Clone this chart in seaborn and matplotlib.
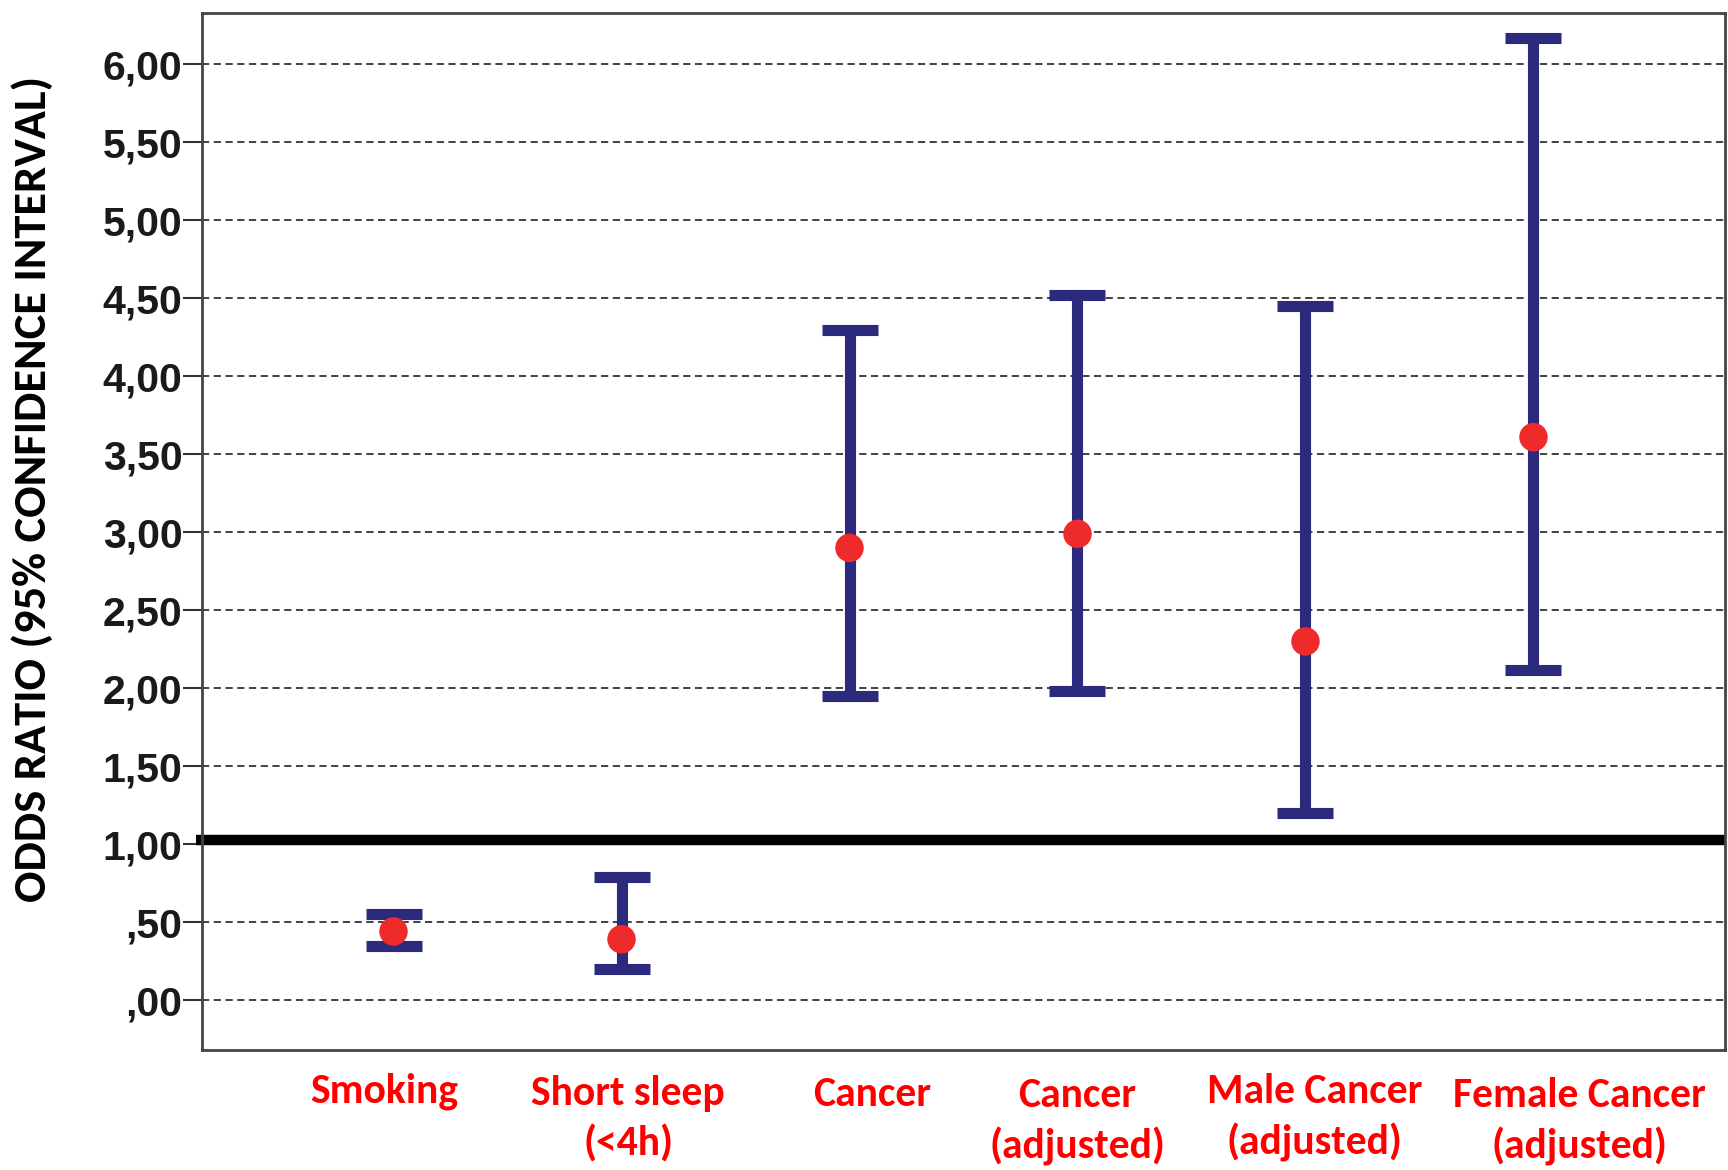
import numpy as np
import pandas as pd
import matplotlib
matplotlib.use("Agg")
import matplotlib.pyplot as plt
import seaborn as sns
from matplotlib.ticker import FuncFormatter

# odds ratios with 95% CI
categories = ["Smoking", "Short sleep\n(<4h)", "Cancer", "Cancer\n(adjusted)",
              "Male Cancer\n(adjusted)", "Female Cancer\n(adjusted)"]
odds_ratio = [0.44, 0.39, 2.90, 2.99, 2.30, 3.61]
ci_lower = [0.35, 0.20, 1.95, 1.98, 1.20, 2.12]
ci_upper = [0.55, 0.79, 4.30, 4.52, 4.45, 6.17]
y_ticks = [0.0, 0.5, 1.0, 1.5, 2.0, 2.5, 3.0, 3.5, 4.0, 4.5, 5.0, 5.5, 6.0]

df = pd.DataFrame({"pos": np.arange(len(categories)), "label": categories,
                   "or": odds_ratio, "lo": ci_lower, "hi": ci_upper})

sns.set_theme(style="white")
plt.rcParams["font.family"] = ["Liberation Sans", "DejaVu Sans"]
calibri = ["Carlito", "DejaVu Sans"]

fig = plt.figure(figsize=(17.28, 11.70), dpi=100)
ax = fig.add_axes([202/1728, 1 - 1050/1170, (1725-202)/1728, (1050-13)/1170])

# grid lines
for y in y_ticks:
    ax.axhline(y, color="#333333", linestyle=(0, (4, 2.5)), linewidth=1.3, zorder=0)

# reference line at OR = 1
ax.axhline(1.025, xmin=-0.004, color="black", linewidth=7.5, zorder=1,
           clip_on=False, solid_capstyle="butt")

navy = "#2B2A7C"
ax.errorbar(df["pos"], df["or"],
            yerr=[df["or"] - df["lo"], df["hi"] - df["or"]],
            fmt="none", ecolor=navy, elinewidth=8, capsize=20.5, capthick=8, zorder=2)
sns.scatterplot(data=df, x="pos", y="or", ax=ax, color="#EE2A2A", s=420,
                marker="o", edgecolor="none", zorder=3)

ax.set_xlim(-0.84, 5.84)
ax.set_ylim(-0.32, 6.33)
ax.set_yticks(y_ticks)
ax.yaxis.set_major_formatter(FuncFormatter(
    lambda v, p: ("%.2f" % v).replace(".", ",").lstrip("0") if v < 1 else ("%.2f" % v).replace(".", ",")))
ax.tick_params(axis="y", left=True, length=14, width=1.5, color="#333333", pad=0,
               labelsize=29.5, labelcolor="#1a1a1a")
ax.set_xticks([])
ax.set_xlabel("")
ax.set_ylabel("")
for lab in ax.get_yticklabels():
    lab.set_fontweight("bold")

fig.text(32/1728, 1 - 489/1170, "ODDS RATIO (95% CONFIDENCE INTERVAL)", rotation=90,
         ha="center", va="center", fontsize=33.5, fontweight="bold", family=calibri, color="black")

for s in ax.spines.values():
    s.set_color("#444444")
    s.set_linewidth(2)

# category labels placed under the axes, as in the original slide
label_shift = [-0.04, 0.03, 0.10, 0.0, 0.04, 0.20]
label_drop = [0.0, 0.002, 0.003, 0.004, 0.0, 0.004]
for i, row in df.iterrows():
    ax.text(row["pos"] + label_shift[i], -0.022 - label_drop[i], row["label"],
            transform=ax.get_xaxis_transform(),
            ha="center", va="top", color="#FF0000", fontsize=30, fontweight="bold",
            family=calibri, linespacing=1.42)

fig.savefig("out.png", dpi=100)
